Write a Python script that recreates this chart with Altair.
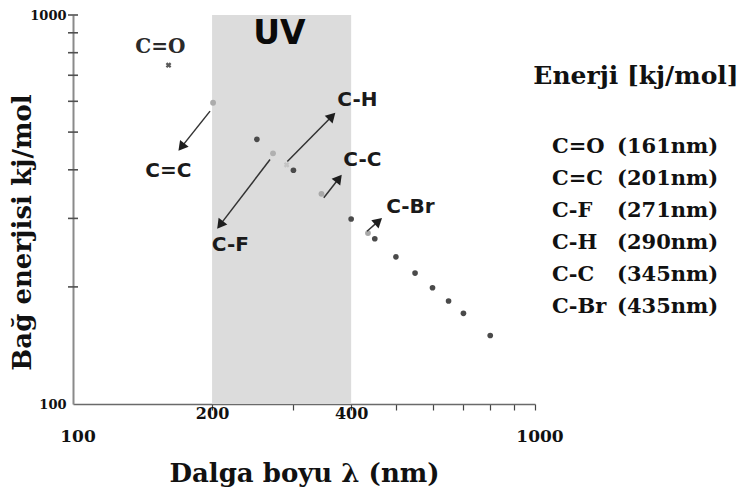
import math
import altair as alt
import pandas as pd

# Continuum of photon energies (E = hc/λ) sampled along the wavelength axis
wave_nm = [250, 300, 400, 450, 500, 550, 600, 650, 700, 800]
energy_kj = [479, 399, 299, 266, 239, 217, 199, 184, 171, 150]

# Bond energies and the wavelength that matches each
bond_names = ["C=O", "C=C", "C-F", "C-H", "C-C", "C-Br"]
bond_nm = [161, 201, 271, 290, 345, 435]
bond_kj = [743, 595, 441, 412, 347, 275]
bond_shape = ["cross", "circle", "circle", "cross", "circle", "circle"]
bond_angle = [45, 0, 0, 45, 0, 0]
bond_color = ["#5a5a5a", "#ababab", "#b0b0b0", "#c4c4c4", "#a8a8a8", "#a8a8a8"]

# Arrows from a bond point towards its label (start -> tip)
arrow_nm0 = [198, 267, 291, 349, 433]
arrow_kj0 = [566, 425, 420, 339, 278]
arrow_nm1 = [169, 205, 370, 382, 467]
arrow_kj1 = [447, 282, 561, 389, 301]

# In-plot labels
sans_labels = ["C=C", "C-F", "C-H", "C-C", "C-Br"]
sans_nm = [160.8, 219.0, 412.6, 423.0, 537.5]
sans_kj = [396, 257, 603, 423, 320]
co_label, co_nm, co_kj = "C=O", 154.5, 825
uv_label, uv_nm, uv_kj = "UV", 279.6, 891

uv_band = [200, 400]
x_ticks = [200, 300, 400, 500, 600, 700, 800, 900, 1000]
y_ticks = [200, 300, 400, 500, 600, 700, 800, 900, 1000]
x_ends = [100, 1000]

W, H = 462, 389
SERIF = "DejaVu Serif"
SANS = "DejaVu Sans"
INK = "#111111"

xscale = alt.Scale(type="log", domain=[100, 1000], nice=False)
yscale = alt.Scale(type="log", domain=[100, 1000], nice=False)

X_AXIS = alt.Axis(
    values=x_ticks,
    labelExpr="datum.value == 200 || datum.value == 400 ? '' + datum.value : ''",
    labelFont=SERIF, labelFontWeight="bold", labelFontSize=16, labelColor=INK,
    labelPadding=-5, labelFlush=False, labelOverlap=False,
    tickSize=6, tickColor="#444444", tickWidth=1.2,
    domainColor="#6a6a6a", domainWidth=1.5, grid=False,
    title="Dalga boyu λ (nm)", titleFont=SERIF, titleFontWeight="bold",
    titleFontSize=26, titleColor=INK, titleY=69, titleBaseline="middle",
)
Y_AXIS = alt.Axis(
    values=[100, 1000], format="d", ticks=False,
    labelFont=SERIF, labelFontWeight="bold", labelFontSize=13, labelColor=INK,
    labelPadding=7, labelFlush=False, labelOverlap=False,
    domainColor="#8a8a8a", domainWidth=2, grid=False,
    title="Bağ enerjisi  kj/mol", titleFont=SERIF, titleFontWeight="bold",
    titleFontSize=26, titleColor=INK, titleAngle=270, titleX=-51, titleY=217,
    titleAlign="center", titleBaseline="middle",
)


def X(field):
    return alt.X(field, type="quantitative", scale=xscale, axis=X_AXIS)


def Y(field):
    return alt.Y(field, type="quantitative", scale=yscale, axis=Y_AXIS)


# UV region
band_df = pd.DataFrame({"x0": [uv_band[0]], "x1": [uv_band[1]], "y0": [100], "y1": [1000]})
band = alt.Chart(band_df).mark_rect(color="#dcdcdc").encode(
    x=X("x0"), x2="x1", y=Y("y0"), y2="y1"
)

# y-axis ticks crossing the axis line
ytick_df = pd.DataFrame({"v": y_ticks})
yticks = alt.Chart(ytick_df).mark_rule(color="#505050", strokeWidth=1.6).encode(
    y=Y("v"), x=alt.value(-5), x2=alt.value(5)
)

# 100 / 1000 under the x axis
xend_df = pd.DataFrame({"v": x_ends, "t": [str(v) for v in x_ends]})
xends = alt.Chart(xend_df).mark_text(
    font=SERIF, fontWeight="bold", fontSize=17, color=INK, dx=5, baseline="middle"
).encode(x=X("v"), y=alt.value(H + 33), text="t:N")

# Continuum points
pts_df = pd.DataFrame({"nm": wave_nm, "kj": energy_kj})
pts = alt.Chart(pts_df).mark_circle(size=32, color="#4a4a4a", opacity=1).encode(
    x=X("nm"), y=Y("kj")
)

# Bond points
bond_df = pd.DataFrame({
    "nm": bond_nm, "kj": bond_kj, "shape": bond_shape,
    "angle": bond_angle, "color": bond_color, "bond": bond_names,
})
bonds = alt.Chart(bond_df).mark_point(size=34, filled=True, opacity=1).encode(
    x=X("nm"), y=Y("kj"),
    shape=alt.Shape("shape:N", scale=None),
    color=alt.Color("color:N", scale=None),
    angle=alt.Angle("angle:Q", scale=None),
)


# Arrows: shaft as a rule, head as a rotated triangle
def to_px(nm, kj):
    return math.log10(nm / 100) * W, (3 - math.log10(kj)) * H


def from_px(px, py):
    return 100 * 10 ** (px / W), 10 ** (3 - py / H)


heads = []
for a0, e0, a1, e1 in zip(arrow_nm0, arrow_kj0, arrow_nm1, arrow_kj1):
    x0, y0 = to_px(a0, e0)
    x1, y1 = to_px(a1, e1)
    dx, dy = x1 - x0, y1 - y0
    L = math.hypot(dx, dy)
    ang = math.degrees(math.atan2(dx, -dy)) % 360
    hx, hy = from_px(x1 - 5 * dx / L, y1 - 5 * dy / L)
    heads.append((hx, hy, ang))

arrow_df = pd.DataFrame({
    "nm0": arrow_nm0, "kj0": arrow_kj0,
    "hnm": [h[0] for h in heads], "hkj": [h[1] for h in heads],
    "ang": [h[2] for h in heads],
})
shafts = alt.Chart(arrow_df).mark_rule(color="#333333", strokeWidth=1.5).encode(
    x=X("nm0"), y=Y("kj0"), x2="hnm", y2="hkj"
)
tips = alt.Chart(arrow_df).mark_point(
    shape="triangle-up", filled=True, size=120, color="#1e1e1e", opacity=1
).encode(x=X("hnm"), y=Y("hkj"), angle=alt.Angle("ang:Q", scale=None))

# Labels inside the plot
sans_df = pd.DataFrame({"t": sans_labels, "nm": sans_nm, "kj": sans_kj})
sans_text = alt.Chart(sans_df).mark_text(
    font=SANS, fontWeight="bold", fontSize=20, color="#1a1a1a", baseline="middle"
).encode(x=X("nm"), y=Y("kj"), text="t:N")

co_df = pd.DataFrame({"t": [co_label], "nm": [co_nm], "kj": [co_kj]})
co_text = alt.Chart(co_df).mark_text(
    font=SERIF, fontWeight="bold", fontSize=20, color="#2a2a2a", baseline="middle"
).encode(x=X("nm"), y=Y("kj"), text="t:N")

uv_df = pd.DataFrame({"t": [uv_label], "nm": [uv_nm], "kj": [uv_kj]})
uv_text = alt.Chart(uv_df).mark_text(
    font=SANS, fontWeight="bold", fontSize=33, color="#0a0a0a", baseline="middle"
).encode(x=X("nm"), y=Y("kj"), text="t:N")

# Energy table on the right
legend_title = alt.Chart(band_df).mark_text(
    text="Enerji [kj/mol]", font=SERIF, fontWeight="bold", fontSize=25,
    color=INK, baseline="middle", align="center"
).encode(x=alt.value(563), y=alt.value(61))

legend_names = alt.Chart(band_df).mark_text(
    text=bond_names, font=SERIF, fontWeight="bold", fontSize=21, lineHeight=32,
    color=INK, baseline="middle", align="left"
).encode(x=alt.value(479), y=alt.value(132))

legend_nm = alt.Chart(band_df).mark_text(
    text=[f"({v}nm)" for v in bond_nm], font=SERIF, fontWeight="bold", fontSize=21,
    lineHeight=32, color=INK, baseline="middle", align="left"
).encode(x=alt.value(544), y=alt.value(132))

chart = alt.layer(
    band, yticks, xends, pts, bonds, shafts, tips,
    sans_text, co_text, uv_text, legend_title, legend_names, legend_nm,
).properties(
    width=W, height=H,
    padding={"left": 73, "top": 15, "right": 206, "bottom": 94},
    autosize=alt.AutoSizeParams(type="none"),
    background="white",
).configure_view(stroke=None)

chart.save("out.html", embed_options={"renderer": "svg", "actions": False})
